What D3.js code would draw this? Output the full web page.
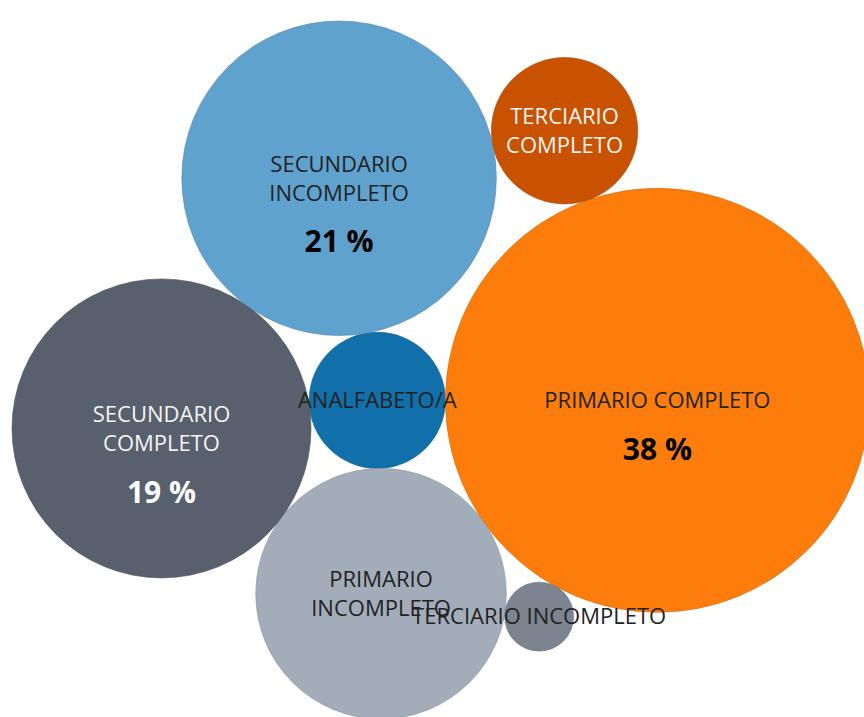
<!DOCTYPE html>
<html>
<head>
<meta charset="utf-8">
<script src="https://cdn.jsdelivr.net/npm/d3@7"></script>
<style>
  body { margin: 0; background: #fff; }
  svg { display: block; }
</style>
</head>
<body>
<div id="chart"></div>
<script>
const W = 864, H = 717;

// nivel educativo, orden alfabético (como lo ordena Tableau)
const categories = [
  "ANALFABETO/A",
  "PRIMARIO COMPLETO",
  "PRIMARIO INCOMPLETO",
  "SECUNDARIO COMPLETO",
  "SECUNDARIO INCOMPLETO",
  "TERCIARIO COMPLETO",
  "TERCIARIO INCOMPLETO"
];
const values = [3.9, 37.8, 13.2, 18.8, 20.8, 4.5, 1.0];
const palette = ["#1170aa", "#fc7d0b", "#a3acb9", "#57606c", "#5fa2ce", "#c85200", "#7b848f"];
// which earlier bubbles each bubble leans on when it is packed
const restsOn = [[], [0], [0, 1], [2, 0], [3, 0], [4, 1], [1, 2]];

const margin = {left: 12, top: 21};

const color = d3.scaleOrdinal(categories, palette);
const radius = d3.scaleSqrt().domain([0, d3.max(values)]).range([0, 212]);

let svg = d3.select("#chart").append("svg")
  .attr("width", W)
  .attr("height", H);

// pack the bubbles: each one tangent to the ones it rests on
let nodes = categories.map((c, i) => ({name: c, value: values[i], r: radius(values[i])}));

function tangentPoints(a, b, r) {
  let dx = b.x - a.x, dy = b.y - a.y, d = Math.hypot(dx, dy);
  let ra = a.r + r, rb = b.r + r;
  let along = (ra * ra - rb * rb + d * d) / (2 * d);
  let h = Math.sqrt(Math.max(0, ra * ra - along * along));
  let ux = dx / d, uy = dy / d;
  let px = a.x + along * ux, py = a.y + along * uy;
  return [{x: px - h * uy, y: py + h * ux}, {x: px + h * uy, y: py - h * ux}];
}

nodes.forEach((n, i) => {
  let rest = restsOn[i];
  if (rest.length == 0) { n.x = 0; n.y = 0; return; }
  if (rest.length == 1) {
    let a = nodes[rest[0]];
    n.x = a.x + a.r + n.r; n.y = a.y;
    return;
  }
  let cands = tangentPoints(nodes[rest[0]], nodes[rest[1]], n.r);
  let placed = nodes.slice(0, i);
  let ok = cands.find(p => placed.every(o => Math.hypot(o.x - p.x, o.y - p.y) > o.r + n.r - 1));
  ok = ok || cands[0];
  n.x = ok.x; n.y = ok.y;
});

let minX = d3.min(nodes, d => d.x - d.r);
let minY = d3.min(nodes, d => d.y - d.r);

let g = svg.append("g")
  .attr("transform", `translate(${margin.left - minX},${margin.top - minY})`);

g.selectAll("circle")
  .data(nodes)
  .enter()
  .append("circle")
  .attr("cx", d => d.x)
  .attr("cy", d => d.y)
  .attr("r", d => d.r)
  .attr("fill", d => color(d.name))
  .attr("stroke", d => d3.color(color(d.name)).darker(0.5))
  .attr("stroke-opacity", 0.6)
  .attr("stroke-width", 1);

// text measuring
const nameFont = 22, lineH = 29, pctFont = 30;
let meas = svg.append("text")
  .attr("font-family", "'Open Sans', sans-serif")
  .attr("font-size", nameFont)
  .attr("visibility", "hidden");
function textW(s) { meas.text(s); return meas.node().getComputedTextLength(); }

nodes.forEach(d => {
  let words = d.name.split(" ");
  let full = textW(d.name);
  let longest = d3.max(words, w => textW(w));
  d.lines = (full > 0.75 * 2 * d.r && longest < 2 * d.r) ? words : [d.name];
  d.fits = d3.max(d.lines, l => textW(l)) < 2 * d.r;
  let dark = d3.hsl(color(d.name)).l < 0.45;
  d.ink = (dark && d.fits) ? "#f4f4f4" : "#222";
});
meas.remove();

let labels = g.selectAll("g.label")
  .data(nodes)
  .enter()
  .append("g")
  .attr("class", "label");

labels.each(function(d) {
  let sel = d3.select(this);
  let n = d.lines.length;
  d.lines.forEach((l, i) => {
    sel.append("text")
      .attr("x", d.x)
      .attr("y", d.y + (i - (n - 1) / 2) * lineH + nameFont * 0.357)
      .attr("text-anchor", "middle")
      .attr("font-family", "'Open Sans', sans-serif")
      .attr("font-size", nameFont)
      .attr("fill", d.ink)
      .text(l);
  });
  // percentage only on the big bubbles
  if (d.r > 140) {
    let lastY = d.y + ((n - 1) / 2) * lineH;
    sel.append("text")
      .attr("x", d.x)
      .attr("y", lastY + 49 + pctFont * 0.357)
      .attr("text-anchor", "middle")
      .attr("font-family", "'Open Sans', sans-serif")
      .attr("font-weight", "bold")
      .attr("font-size", pctFont)
      .attr("fill", d.ink == "#222" ? "#000" : "#fff")
      .text(Math.round(d.value) + " %");
  }
});
</script>
</body>
</html>
